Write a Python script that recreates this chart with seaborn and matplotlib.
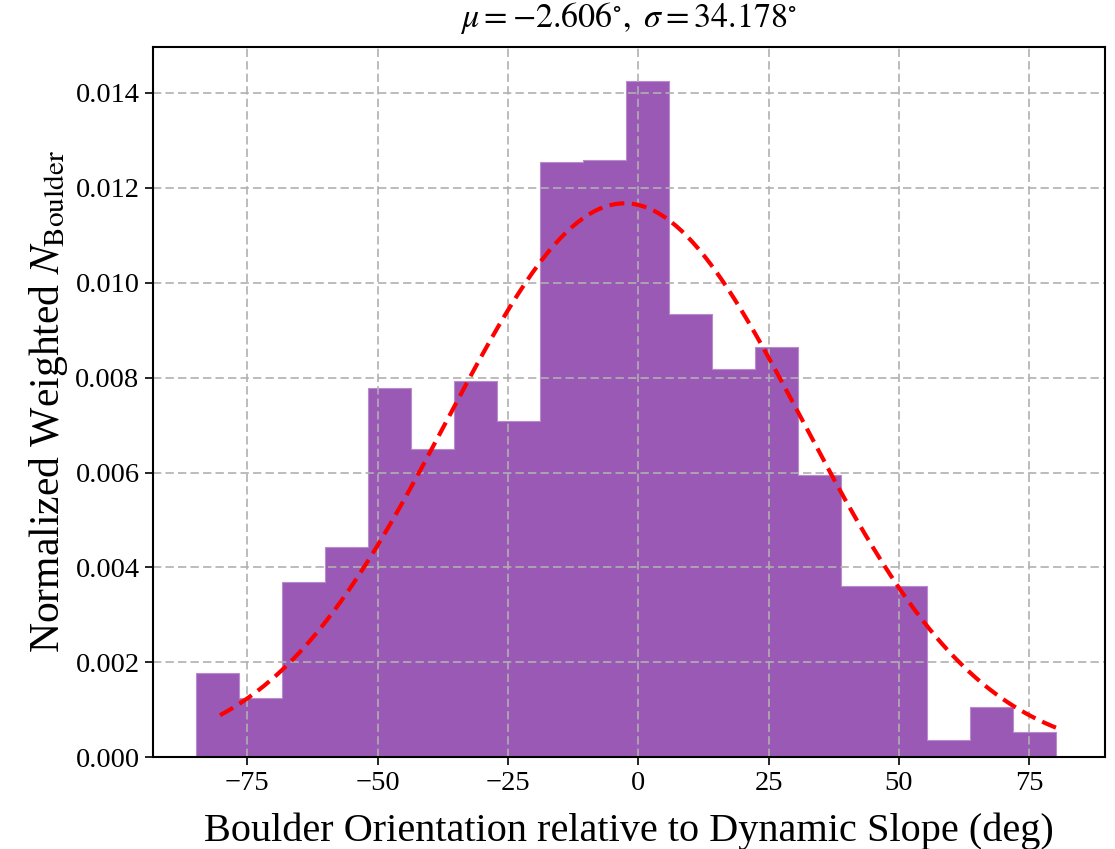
import numpy as np
import matplotlib
matplotlib.use("Agg")
import matplotlib.pyplot as plt
import seaborn as sns

# Histogram bin edges (deg) and normalized weighted heights
bin_edges = [-84.8, -76.55, -68.3, -60.05, -51.8, -43.55, -35.3, -27.05, -18.8,
             -10.55, -2.3, 5.95, 14.2, 22.45, 30.7, 38.95, 47.2, 55.45, 63.7,
             71.95, 80.2]
bin_heights = [0.00177, 0.00126, 0.00369, 0.00444, 0.00778, 0.00649, 0.00793,
               0.00708, 0.01254, 0.01259, 0.01426, 0.00934, 0.00818, 0.00864,
               0.00594, 0.00362, 0.00360, 0.00037, 0.00105, 0.00053]
# Fitted normal parameters (from title)
mu = -2.606
sigma = 34.178
fit_range = [-80.2, 81.2]

sns.set_theme(style="white")
plt.rcParams["font.family"] = ["Liberation Serif", "DejaVu Serif"]
plt.rcParams["mathtext.fontset"] = "stix"

fig, ax = plt.subplots(figsize=(11.15, 8.49), dpi=100)

centers = [(bin_edges[i] + bin_edges[i + 1]) / 2 for i in range(len(bin_heights))]
sns.histplot(x=centers, weights=bin_heights, bins=bin_edges, stat="count",
             color="#9b59b6", alpha=1.0, element="step", fill=True,
             edgecolor="#b88ccb", linewidth=0.8, ax=ax)

xs = np.linspace(fit_range[0], fit_range[1], 300)
pdf = np.exp(-0.5 * ((xs - mu) / sigma) ** 2) / (sigma * np.sqrt(2 * np.pi))
sns.lineplot(x=xs, y=pdf, color="red", linestyle="--", linewidth=3, ax=ax)
ax.lines[-1].set_dashes((3.6, 1.8))
ax.lines[-1].set_zorder(5)

ax.set_axisbelow(False)
ax.grid(True, linestyle=(0, (5, 2.5)), color="#b0b0b0", linewidth=1.2)
for s in ax.spines.values():
    s.set_color("black")
    s.set_linewidth(1.5)
    s.set_zorder(6)
ax.tick_params(axis="both", which="major", direction="out", length=6, width=1.2,
               labelsize=20.5, bottom=True, left=True, color="black")
ax.set_xticks([-75, -50, -25, 0, 25, 50, 75])
ax.set_yticks(np.arange(0, 0.0141, 0.002))
ax.yaxis.set_major_formatter(matplotlib.ticker.FormatStrFormatter("%.3f"))
for lbl in ax.get_xticklabels() + ax.get_yticklabels():
    lbl.set_color("black")

ax.set_xlabel("Boulder Orientation relative to Dynamic Slope (deg)", fontsize=29,
              color="black", labelpad=12)
ax.set_ylabel(r"Normalized Weighted $N_{\rm Boulder}$", fontsize=30, color="black")
ax.set_title(r"$\mu = {-2.606}^{\circ},\ \sigma = {34.178}^{\circ}$", fontsize=24.5,
             color="black", pad=14)

fig.subplots_adjust(left=0.137, right=0.991, top=0.945, bottom=0.108)
fig.savefig("out.png", dpi=100)
